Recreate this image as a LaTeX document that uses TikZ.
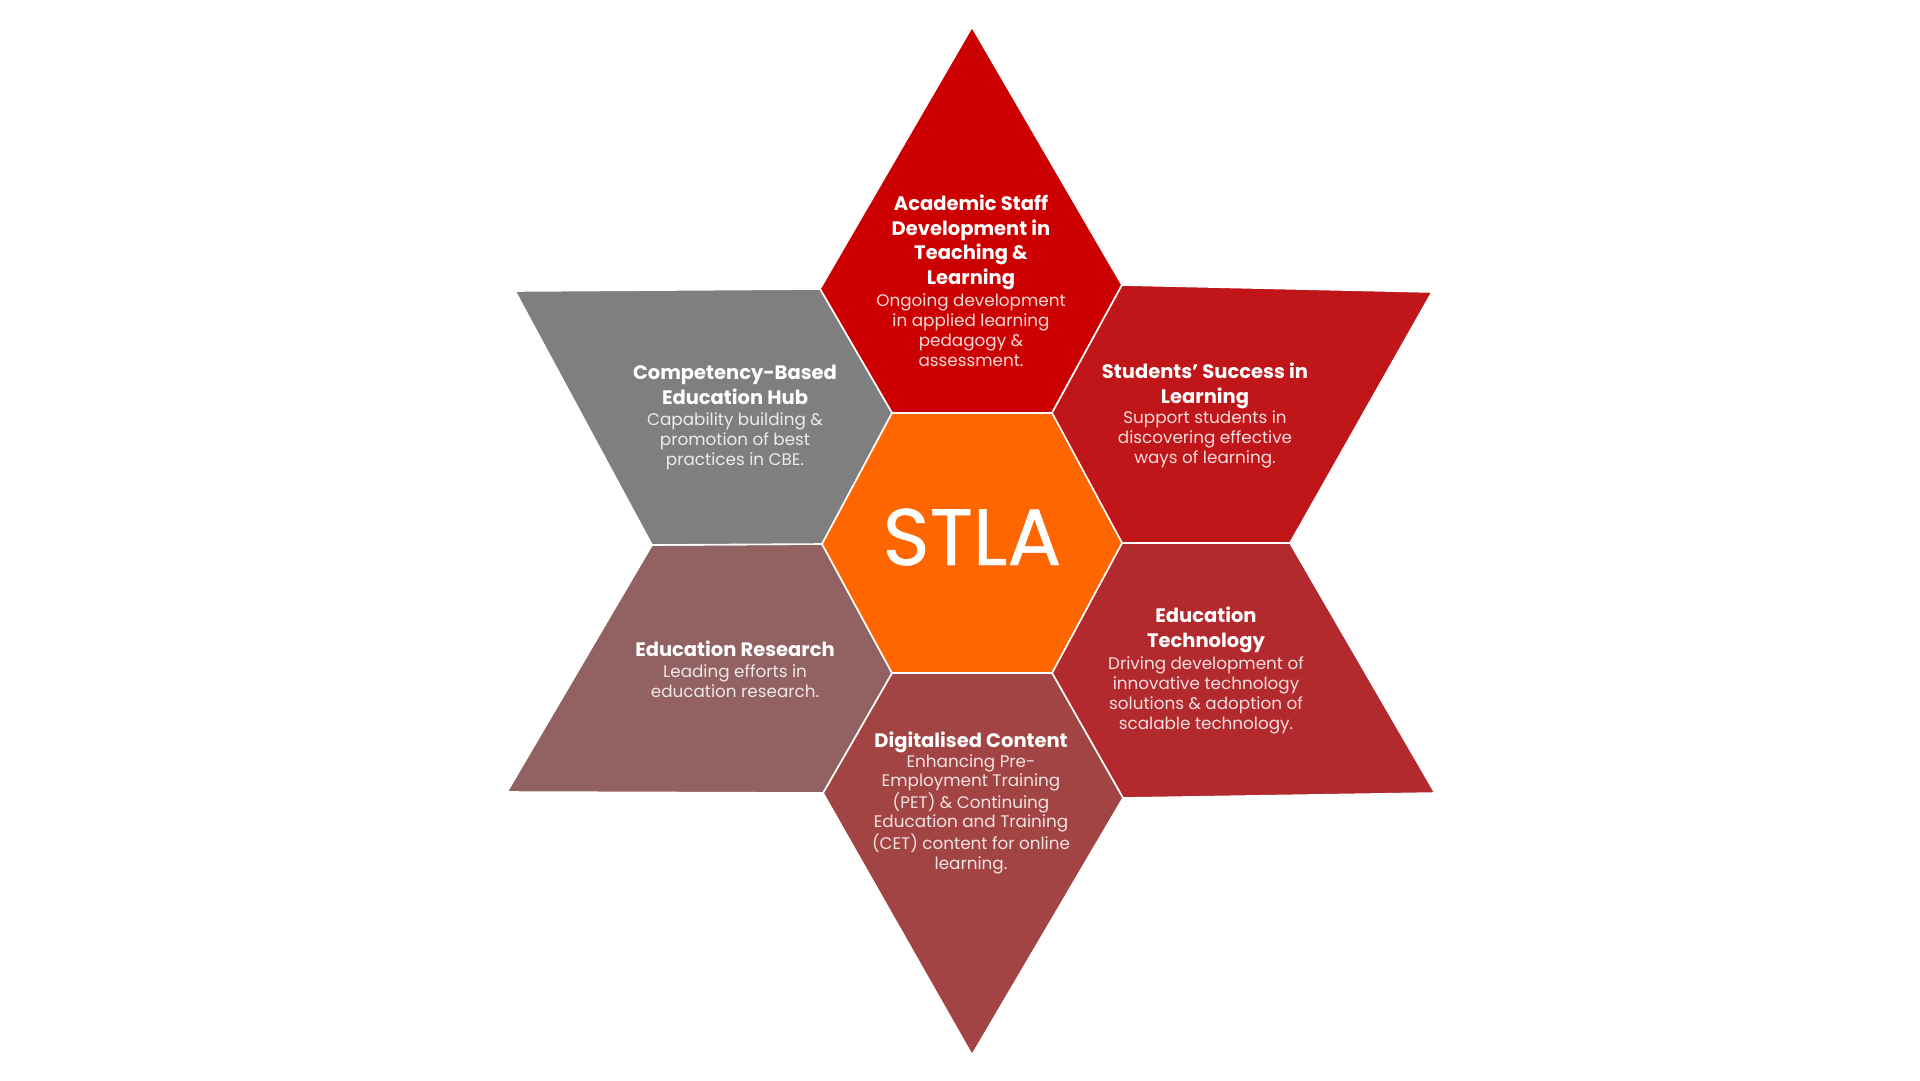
\documentclass[tikz,border=0pt]{standalone}
\usepackage{fontspec}
\setmainfont{Poppins}
\newfontfamily\hubfont{Poppins}[FakeBold=0.6]
\definecolor{cTop}{HTML}{CC0000}
\definecolor{cUR}{HTML}{C0161A}
\definecolor{cLR}{HTML}{B2292E}
\definecolor{cBot}{HTML}{A24444}
\definecolor{cLL}{HTML}{926161}
\definecolor{cUL}{HTML}{7F7F7F}
\definecolor{cHub}{HTML}{FF6600}
\tikzset{
  petal/.style={draw=white, line width=1.6bp, line join=miter},
  ttl/.style={text=white, font=\fontsize{19.5bp}{24.5bp}\selectfont\bfseries, align=center, inner sep=0pt, anchor=base},
  dsc/.style={text=white, text opacity=0.85, font=\fontsize{16.8bp}{19.8bp}\selectfont, align=center, inner sep=0pt, anchor=base},
  hubtext/.style={text=white, font=\fontsize{80bp}{80bp}\selectfont\hubfont, inner sep=0pt, anchor=base}
}
\begin{document}
\begin{tikzpicture}[x=1bp,y=-1bp]
\useasboundingbox (0,0) rectangle (1920,1080);
\fill[white] (0,0) rectangle (1920,1080);
% outer tips
\coordinate (T) at (972,27);
\coordinate (B) at (972,1055);
\coordinate (UL) at (515,291);
\coordinate (UR) at (1432,292);
\coordinate (LL) at (507,792);
\coordinate (LR) at (1435,793);
% concave vertices
\coordinate (cTL) at (820,289);
\coordinate (cTR) at (1122,285);
\coordinate (cL) at (652,545);
\coordinate (cR) at (1290,543);
\coordinate (cBL) at (823,793);
\coordinate (cBR) at (1123,798);
% hexagon
\coordinate (hL) at (822,544);
\coordinate (hTL) at (892,413);
\coordinate (hTR) at (1052,413);
\coordinate (hR) at (1122,543);
\coordinate (hBR) at (1052,673);
\coordinate (hBL) at (892,673);
% petals
\filldraw[petal, fill=cTop] (T) -- (cTR) -- (hTR) -- (hTL) -- (cTL) -- cycle;
\filldraw[petal, fill=cUR] (cTR) -- (UR) -- (cR) -- (hR) -- (hTR) -- cycle;
\filldraw[petal, fill=cLR] (hR) -- (cR) -- (LR) -- (cBR) -- (hBR) -- cycle;
\filldraw[petal, fill=cBot] (hBL) -- (hBR) -- (cBR) -- (B) -- (cBL) -- cycle;
\filldraw[petal, fill=cLL] (cL) -- (hL) -- (hBL) -- (cBL) -- (LL) -- cycle;
\filldraw[petal, fill=cUL] (UL) -- (cTL) -- (hTL) -- (hL) -- (cL) -- cycle;
\filldraw[petal, fill=cHub] (hL) -- (hTL) -- (hTR) -- (hR) -- (hBR) -- (hBL) -- cycle;
% texts (anchor = baseline of the last line)
\node[hubtext] (hub) at (972,565) {STLA};
\node[ttl] (t1) at (971,284) {Academic Staff\\Development in\\Teaching \&\\Learning};
\node[dsc] (d1) at (971,366) {Ongoing development\\in applied learning\\pedagogy \&\\assessment.};
\node[ttl] (t2) at (1205,403) {Students’ Success in\\Learning};
\node[dsc] (d2) at (1205,463) {Support students in\\discovering effective\\ways of learning.};
\node[ttl] (t3) at (1206,647) {Education\\Technology};
\node[dsc] (d3) at (1206,729) {Driving development of\\innovative technology\\solutions \& adoption of\\scalable technology.};
\node[ttl] (t4) at (971,747) {Digitalised Content};
\node[dsc] (d4) at (971,869) {Enhancing Pre-\\Employment Training\\(PET) \& Continuing\\Education and Training\\(CET) content for online\\learning.};
\node[ttl] (t5) at (735,656) {Education Research};
\node[dsc] (d5) at (735,697) {Leading efforts in\\education research.};
\node[ttl] (t6) at (735,404) {Competency-Based\\Education Hub};
\node[dsc] (d6) at (735,465) {Capability building \&\\promotion of best\\practices in CBE.};
\end{tikzpicture}
\end{document}
